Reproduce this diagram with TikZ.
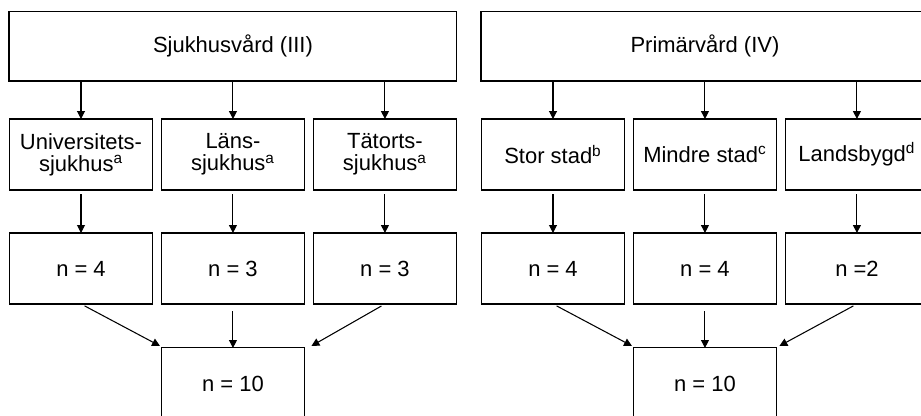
\documentclass[tikz,border=0pt]{standalone}
\usepackage{fontspec}
\setmainfont{Liberation Sans}
\usetikzlibrary{arrows.meta, positioning}

\begin{document}
\begin{tikzpicture}[
			x=0.02cm, y=-0.02cm,
			node distance=0.18cm,
			cell/.style={rectangle, draw=black, line width=0.6pt, minimum width=2.86cm, minimum height=1.42cm, inner sep=0pt, outer sep=0pt, align=center, font=\fontsize{12.5}{12.6}\selectfont},
			head/.style={cell, minimum width=8.96cm, minimum height=1.4cm},
			arrow/.style={-{Triangle[length=4.5pt, width=4.5pt]}, line width=0.6pt}
			]
			\useasboundingbox (0,0) rectangle (921,416);
			\clip (0,0) rectangle (921,416);
			% Sjukhusvård (III)
			\node[cell] (uni) at (81,154.5) {Universitets-\\sjukhus\textsuperscript{a}};
			\node[cell, right=of uni] (lans) {Läns-\\sjukhus\textsuperscript{a}};
			\node[cell, right=of lans] (tator) {Tätorts-\\sjukhus\textsuperscript{a}};
			\node[head, above=0.76cm of lans] (sjuk) {Sjukhusvård (III)};
			\node[cell, below=0.86cm of uni] (nuni) {n = 4};
			\node[cell, below=0.86cm of lans] (nlans) {n = 3};
			\node[cell, below=0.86cm of tator] (ntator) {n = 3};
			\node[cell, below=0.88cm of nlans] (sumsjuk) {n = 10};
			
			% Primärvård (IV)
			\node[cell] (stor) at (553,154.5) {Stor stad\textsuperscript{b}};
			\node[cell, right=of stor] (mindre) {Mindre stad\textsuperscript{c}};
			\node[cell, right=of mindre] (land) {Landsbygd\textsuperscript{d}};
			\node[head, above=0.76cm of mindre] (prim) {Primärvård (IV)};
			\node[cell, below=0.86cm of stor] (nstor) {n = 4};
			\node[cell, below=0.86cm of mindre] (nmindre) {n = 4};
			\node[cell, below=0.86cm of land] (nland) {n =2};
			\node[cell, below=0.88cm of nmindre] (sumprim) {n = 10};
			
			\foreach \a in {uni, lans, tator}
				\draw[arrow] (sjuk.south -| \a.north) -- (\a.north);
			\foreach \a in {stor, mindre, land}
				\draw[arrow] (prim.south -| \a.north) -- (\a.north);
			\foreach \a/\b in {uni/nuni, lans/nlans, tator/ntator, stor/nstor, mindre/nmindre, land/nland}
				\draw[arrow, shorten <=2.3pt] (\a) -- (\b);
			
			\draw[arrow, shorten <=2.3pt] (nuni.south) -- ([xshift=-0.03cm, yshift=0.04cm]sumsjuk.north west);
			\draw[arrow, shorten <=4pt] (nlans) -- (sumsjuk);
			\draw[arrow, shorten <=2.3pt] (ntator.south) -- ([xshift=0.14cm, yshift=0.04cm]sumsjuk.north east);
			\draw[arrow, shorten <=2.3pt] (nstor.south) -- ([xshift=-0.03cm, yshift=0.04cm]sumprim.north west);
			\draw[arrow, shorten <=4pt] (nmindre) -- (sumprim);
			\draw[arrow, shorten <=2.3pt] (nland.south) -- ([xshift=0.06cm, yshift=0.04cm]sumprim.north east);
		\end{tikzpicture}
\end{document}
